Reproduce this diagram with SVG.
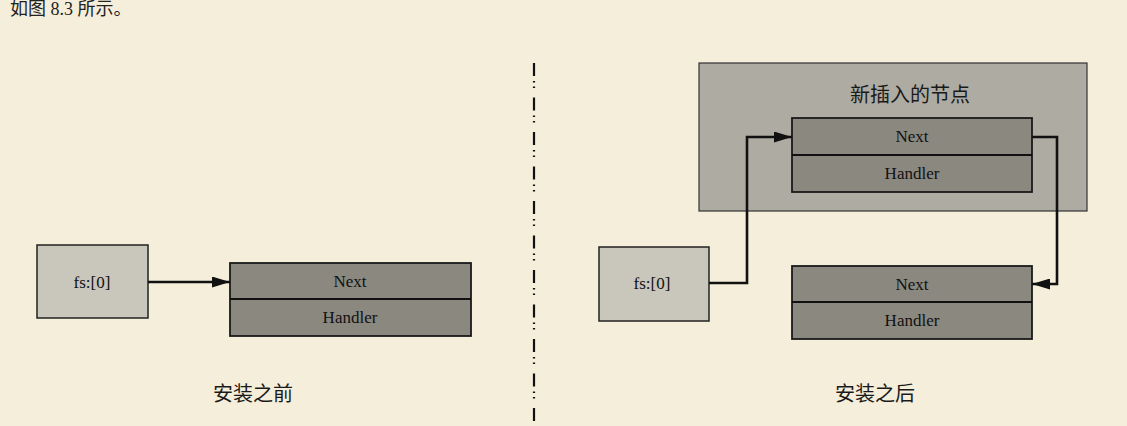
<svg xmlns="http://www.w3.org/2000/svg" width="1127" height="426" viewBox="0 0 1127 426">
<style>
.bg{fill:#f5eedb}
.ptr{fill:#c9c6bb;stroke:#222;stroke-width:1.5}
.rec{fill:#8b8880;stroke:#1a1a1a;stroke-width:1.8}
.outer{fill:#aeaba2;stroke:#333;stroke-width:1.2}
.lbl{font-family:"Liberation Serif",serif;font-size:17px;fill:#111;text-anchor:middle}
.cjk{font-family:"Noto Sans CJK SC",sans-serif;font-size:20px;fill:#1a1a1a;text-anchor:middle}
.conn{fill:none;stroke:#111;stroke-width:2.6}
</style>
<defs>
<marker id="ah" viewBox="0 0 10 10" refX="10" refY="5" markerWidth="18" markerHeight="11" markerUnits="userSpaceOnUse" orient="auto" preserveAspectRatio="none">
<path d="M0,0 L10,5 L0,10 Z" fill="#111"/>
</marker>
</defs>
<rect class="bg" x="0" y="0" width="1127" height="426"/>
<text x="10" y="15" style="font-family:'Liberation Serif','Noto Sans CJK SC',serif;font-size:18px;fill:#222">如图 8.3 所示。</text>

<line x1="534" y1="63" x2="534" y2="426" stroke="#111" stroke-width="2.2" stroke-dasharray="13 5 1.5 4 1.5 9.5"/>

<g id="before-fs">
<rect class="ptr" x="37" y="245" width="111" height="73"/>
<text class="lbl" x="92" y="288">fs:[0]</text>
</g>
<g id="before-node">
<rect class="rec" x="230" y="263" width="241" height="73"/>
<line x1="230" y1="299" x2="471" y2="299" stroke="#111" stroke-width="2"/>
<text class="lbl" x="350" y="287">Next</text>
<text class="lbl" x="350" y="323">Handler</text>
</g>
<text class="cjk" x="253" y="401">安装之前</text>

<g id="new-node">
<rect class="outer" x="699" y="63" width="388" height="148"/>
<text class="cjk" x="910" y="102">新插入的节点</text>
<rect class="rec" x="792" y="118" width="240" height="74"/>
<line x1="792" y1="155" x2="1032" y2="155" stroke="#111" stroke-width="2"/>
<text class="lbl" x="912" y="142">Next</text>
<text class="lbl" x="912" y="179">Handler</text>
</g>
<g id="after-fs">
<rect class="ptr" x="599" y="247" width="110" height="74"/>
<text class="lbl" x="652" y="289">fs:[0]</text>
</g>
<g id="old-node">
<rect class="rec" x="792" y="266" width="240" height="73"/>
<line x1="792" y1="302" x2="1032" y2="302" stroke="#111" stroke-width="2"/>
<text class="lbl" x="912" y="290">Next</text>
<text class="lbl" x="912" y="326">Handler</text>
</g>
<text class="cjk" x="875" y="401">安装之后</text>

<g id="connectors">
<path class="conn" d="M148,282 L230,282" marker-end="url(#ah)"/>
<path class="conn" d="M709,283 L747,283 L747,137 L792,137" marker-end="url(#ah)"/>
<path class="conn" d="M1032,137 L1057,137 L1057,284 L1032,284" marker-end="url(#ah)"/>
</g>
</svg>
